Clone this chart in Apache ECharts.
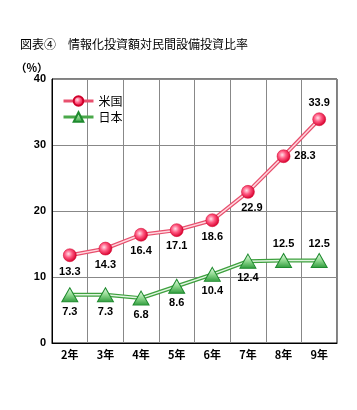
<!DOCTYPE html>
<html><head><meta charset="utf-8">
<script src="https://cdn.jsdelivr.net/npm/echarts@6/dist/echarts.min.js"></script>
<style>html,body{margin:0;padding:0;background:#fff}#c{width:357px;height:410px}</style>
</head><body><div id="c"></div>
<script>
const titleText = '図表④　情報化投資額対民間設備投資比率';
const categories = ['2年','3年','4年','5年','6年','7年','8年','9年'];
const usValues = [13.3, 14.3, 16.4, 17.1, 18.6, 22.9, 28.3, 33.9];
const jpValues = [7.3, 7.3, 6.8, 8.6, 10.4, 12.4, 12.5, 12.5];
const seriesNames = ['米国','日本'];
const yTicks = [0, 10, 20, 30, 40];

const usLabelPos = ['bottom','bottom','bottom','bottom','bottom','bottom','right','top'];
const jpLabelPos = ['bottom','bottom','bottom','bottom','bottom','bottom','top','top'];

const lblFont = {fontFamily:'Liberation Sans, Arial, sans-serif', fontWeight:'bold', fontSize:11, color:'#000'};

const redGrad = new echarts.graphic.RadialGradient(0.4,0.4,0.6,[
  {offset:0,color:'#ffe0e8'},{offset:0.45,color:'#ff5a82'},{offset:1,color:'#d8002e'}]);
const greenGrad = new echarts.graphic.LinearGradient(0,0,0,1,[
  {offset:0,color:'#f0fff0'},{offset:0.5,color:'#8fd88f'},{offset:1,color:'#2c9a3a'}]);

function mkData(vals, pos, isUs){
  return vals.map((v,i)=>{
    const p = pos[i];
    const lab = {show:true, position:p, distance:4};
    if (isUs && i===5) { lab.position='bottom'; lab.offset=[4,0]; }
    return {value:v, label:lab};
  });
}

const chart = echarts.init(document.getElementById('c'));
chart.setOption({
  animation:false,
  title:{text:titleText, left:15, top:33, textStyle:{fontFamily:'Noto Sans CJK JP', fontWeight:'normal', fontSize:12, color:'#000'}},
  grid:{left:52, right:20, top:79, bottom:67, show:true, borderColor:'#000', borderWidth:1},
  legend:{
    orient:'vertical', left:57, top:90, itemWidth:30, itemHeight:12, itemGap:4,
    textStyle:{fontFamily:'Noto Sans CJK JP', fontSize:12, color:'#000'},
    data:[
      {name:seriesNames[0], lineStyle:{color:'#e8506e', width:3}},
      {name:seriesNames[1], lineStyle:{color:'#4aa84a', width:3}}
    ]
  },
  xAxis:{
    type:'category', data:categories, boundaryGap:true,
    axisLine:{lineStyle:{color:'#000', width:1}}, axisTick:{show:false},
    axisLabel:{fontFamily:'Noto Sans CJK JP', fontWeight:'bold', fontSize:11, color:'#000', margin:6},
    splitLine:{show:true, lineStyle:{color:'#888', width:1}}
  },
  yAxis:{
    type:'value', min:yTicks[0], max:yTicks[yTicks.length-1], interval:10,
    name:'（%）', nameLocation:'end', nameGap:4,
    nameTextStyle:{fontFamily:'Noto Sans CJK JP', fontWeight:'bold', fontSize:11, color:'#000', align:'right', padding:[0,4,0,0]},
    axisLine:{show:true, lineStyle:{color:'#000', width:1}}, axisTick:{show:false},
    axisLabel:{fontFamily:'Liberation Sans, Arial, sans-serif', fontWeight:'bold', fontSize:11, color:'#000', margin:6},
    splitLine:{show:true, lineStyle:{color:'#888', width:1}}
  },
  series:[
    {name:'us_outer', type:'line', data:usValues, symbol:'none', silent:true, lineStyle:{color:'#e8506e', width:4}, z:2},
    {name:'jp_outer', type:'line', data:jpValues, symbol:'none', silent:true, lineStyle:{color:'#3ea03e', width:4}, z:2},
    {name:seriesNames[0], type:'line', data:mkData(usValues, usLabelPos, true), symbol:'circle', symbolSize:13,
     itemStyle:{color:redGrad, borderColor:'#d0002a', borderWidth:0.5}, lineStyle:{color:'#ffd8e0', width:1.5},
     label:{...lblFont}, z:3},
    {name:seriesNames[1], type:'line', data:mkData(jpValues, jpLabelPos, false), symbol:'triangle', symbolSize:[16,14],
     itemStyle:{color:greenGrad, borderColor:'#1e8a2e', borderWidth:1}, lineStyle:{color:'#e0f5e0', width:1.5},
     label:{...lblFont}, z:3}
  ]
});
</script></body></html>
